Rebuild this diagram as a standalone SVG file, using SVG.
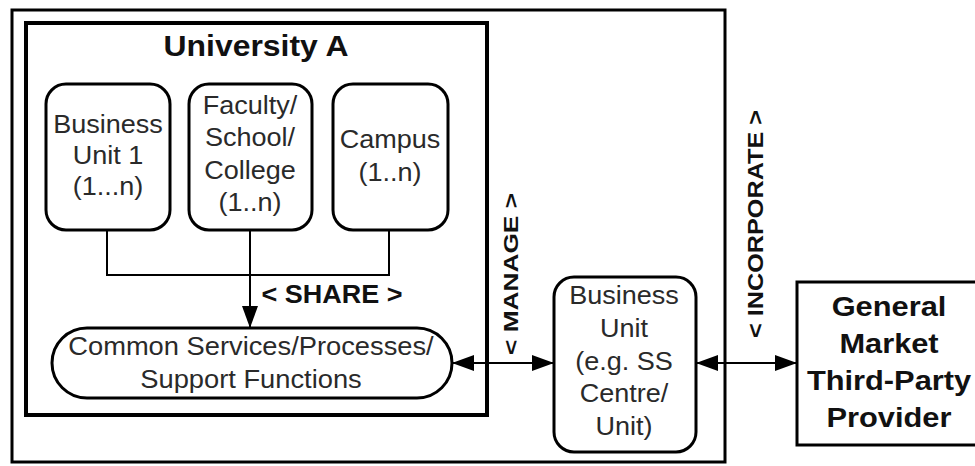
<svg xmlns="http://www.w3.org/2000/svg" width="975" height="466" viewBox="0 0 975 466">
  <style>
    .frame { fill: none; stroke: #000; }
    .node { fill: #fff; stroke: #000; stroke-width: 3; }
    .wire { fill: none; stroke: #000; stroke-width: 2; }
    .txt { font-family: "Liberation Sans", Arial, sans-serif; font-size: 26px; fill: #2a2a2a; text-anchor: middle; }
    .bold { font-family: "Liberation Sans", Arial, sans-serif; font-weight: bold; fill: #111; text-anchor: middle; }
  </style>
  <defs>
    <marker id="head" viewBox="0 0 22 16" refX="22" refY="8" markerWidth="22" markerHeight="16" markerUnits="userSpaceOnUse" orient="auto-start-reverse">
      <path d="M0,0 L22,8 L0,16 z" fill="#000"/>
    </marker>
  </defs>

  <rect width="975" height="466" fill="#fff"/>

  <!-- outer enterprise boundary -->
  <rect id="enterprise" class="frame" x="12" y="10" width="713" height="452" stroke-width="3"/>

  <!-- University A container -->
  <g id="university-a">
    <rect class="frame" x="26" y="23" width="461" height="392" stroke-width="4"/>
    <text class="bold" x="256" y="56" font-size="30" textLength="185" lengthAdjust="spacingAndGlyphs">University A</text>
  </g>

  <g id="business-unit-1">
    <rect class="node" x="46" y="84" width="124" height="146" rx="20"/>
    <g transform="translate(108 0) scale(1.04 1)">
      <text class="txt" x="0" y="133">Business</text>
      <text class="txt" x="0" y="164">Unit 1</text>
      <text class="txt" x="0" y="195">(1...n)</text>
    </g>
  </g>

  <g id="faculty">
    <rect class="node" x="189" y="84" width="123" height="146" rx="20"/>
    <g transform="translate(250 0) scale(1.04 1)">
      <text class="txt" x="0" y="114">Faculty/</text>
      <text class="txt" x="0" y="146">School/</text>
      <text class="txt" x="0" y="179">College</text>
      <text class="txt" x="0" y="211">(1..n)</text>
    </g>
  </g>

  <g id="campus">
    <rect class="node" x="333" y="84" width="115" height="146" rx="20"/>
    <g transform="translate(390 0) scale(1.04 1)">
      <text class="txt" x="0" y="148">Campus</text>
      <text class="txt" x="0" y="181">(1..n)</text>
    </g>
  </g>

  <g id="common-services">
    <rect class="node" x="52" y="328" width="400" height="70" rx="35"/>
    <g transform="translate(251 0) scale(1.05 1)">
      <text class="txt" x="0" y="355">Common Services/Processes/</text>
      <text class="txt" x="0" y="388">Support Functions</text>
    </g>
  </g>

  <g id="business-unit">
    <rect class="node" x="554" y="277" width="142" height="175" rx="20"/>
    <g transform="translate(624 0) scale(1.04 1)">
      <text class="txt" x="0" y="304">Business</text>
      <text class="txt" x="0" y="337">Unit</text>
      <text class="txt" x="0" y="370">(e.g. SS</text>
      <text class="txt" x="0" y="402">Centre/</text>
      <text class="txt" x="0" y="435">Unit)</text>
    </g>
  </g>

  <g id="third-party">
    <rect class="node" x="797" y="282" width="200" height="163"/>
    <g transform="translate(889 0) scale(1.1 1)">
      <text class="bold" x="0" y="316" font-size="28">General</text>
      <text class="bold" x="0" y="353" font-size="28">Market</text>
      <text class="bold" x="0" y="390" font-size="28">Third-Party</text>
      <text class="bold" x="0" y="427" font-size="28">Provider</text>
    </g>
  </g>

  <!-- connectors -->
  <g id="connectors">
    <path class="wire" d="M107,230 V275 H389 V230"/>
    <path class="wire" d="M250,230 V328" marker-end="url(#head)"/>
    <text class="bold" x="332" y="303" font-size="25" textLength="141" lengthAdjust="spacingAndGlyphs">&lt; SHARE &gt;</text>

    <path class="wire" d="M452,363 H554" marker-start="url(#head)" marker-end="url(#head)"/>
    <text class="bold" font-size="20" transform="translate(518 274) rotate(-90)" textLength="162" lengthAdjust="spacingAndGlyphs">&lt; MANAGE &gt;</text>

    <path class="wire" d="M696,363 H797" marker-start="url(#head)" marker-end="url(#head)"/>
    <text class="bold" font-size="22" transform="translate(763 224) rotate(-90)" textLength="228" lengthAdjust="spacingAndGlyphs">&lt; INCORPORATE &gt;</text>
  </g>
</svg>
